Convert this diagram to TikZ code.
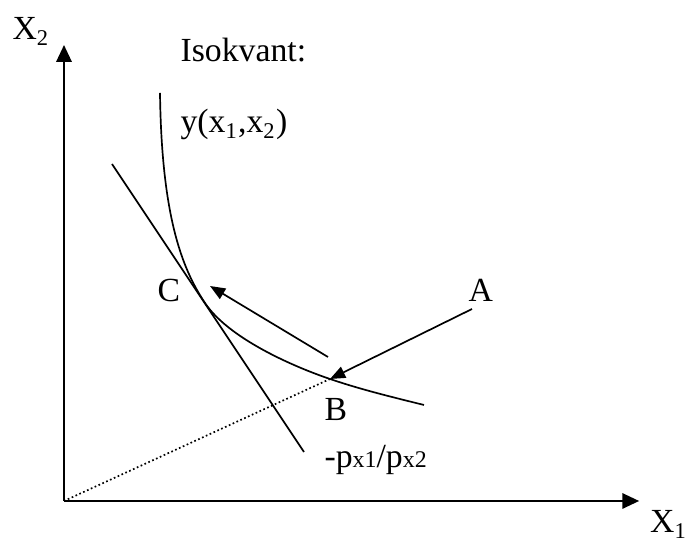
\documentclass[tikz,border=0pt]{standalone}
\usepackage{fontspec}
\setmainfont{Liberation Serif}
\usetikzlibrary{arrows.meta, positioning}
\tikzset{
    axis/.style={line width=0.8pt, -{Triangle[length=0.21cm, width=0.19cm]}},
    curve/.style={line width=0.6pt},
    move/.style={line width=0.6pt, -{Triangle[length=0.19cm, width=0.15cm]}},
    lbl/.style={inner sep=0pt, anchor=base west, font=\fontsize{12}{14}\selectfont},
}
\newcommand{\sml}[1]{{\fontsize{8.5}{10}\selectfont #1}}

\begin{document}
\begin{tikzpicture}
    \useasboundingbox (-0.8,-0.525) rectangle (7.85,6.2625);
    \coordinate (O) at (0,0);
    \coordinate (ytop) at (0,5.7);
    \coordinate (xend) at (7.19,0);
    \coordinate (top) at (1.2,5.1);
    \coordinate (T) at (1.7625,2.475);
    \coordinate (B) at (3.325,1.525);
    \coordinate (end) at (4.5,1.2);
    \coordinate (t1) at (0.6,4.2125);
    \coordinate (t2) at (3.0,0.6125);
    \coordinate (ctail) at (3.3,1.8);
    \coordinate (chead) at (1.825,2.6875);
    \coordinate (atail) at (5.1,2.4);
    % axes
    \draw[axis] (O) -- (ytop);
    \draw[axis] (O) -- (xend);
    \node[lbl] (x2) at (-0.65,5.7625) {X\textsubscript{2}};
    \node[lbl] (x1) at (7.32,-0.40) {X\textsubscript{1}};
    % isoquant and price line
    \draw[curve] (top) .. controls (1.22,3.6) and (1.46,2.925) .. (T)
        .. controls (2.05,2.045) and (2.825,1.695) .. (B)
        .. controls (3.725,1.389) and (4.1,1.3) .. (end);
    \draw[curve] (t1) -- (t2);
    \draw[line width=0.6pt, dash pattern=on 0.6pt off 0.9pt] (O) -- (B);
    % moves
    \draw[move] (atail) -- (B);
    \draw[move] (ctail) -- (chead);
    % labels
    \node[lbl] (iso) at (1.45,5.4875) {Isokvant:};
    \node[lbl] (yfun) at (1.45,4.6) {y(x\textsubscript{1},x\textsubscript{2})};
    \node[lbl] (C) at (1.1625,2.4875) {C};
    \node[lbl] (A) at (5.05,2.4875) {A};
    \node[lbl] (Blbl) at (3.25,1.0) {B};
    \node[lbl] (slope) at (3.25,0.4125) {-p\sml{x1}/p\sml{x2}};
\end{tikzpicture}
\end{document}
